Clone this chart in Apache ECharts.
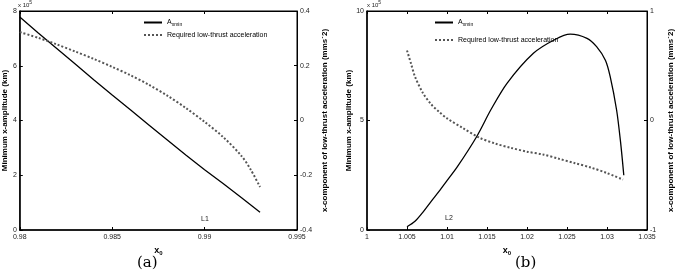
<!DOCTYPE html>
<html>
<head>
<meta charset="utf-8">
<script src="https://cdn.jsdelivr.net/npm/echarts@6/dist/echarts.min.js"></script>
<style>
  html, body { margin: 0; padding: 0; background: #fff; }
  #main { width: 678px; height: 278px; }
</style>
</head>
<body>
<div id="main"></div>
<script>
// panel (a): L1
var x0L1 = [0.98, 0.981, 0.982, 0.983, 0.984, 0.985, 0.986, 0.987, 0.988, 0.989, 0.99, 0.991, 0.992, 0.993];
var ampL1 = [7.78, 7.2, 6.63, 6.06, 5.49, 4.93, 4.38, 3.83, 3.28, 2.73, 2.2, 1.7, 1.18, 0.65];
var accX0L1 = [0.98, 0.981, 0.982, 0.983, 0.984, 0.985, 0.986, 0.987, 0.988, 0.989, 0.99, 0.991, 0.992, 0.9925, 0.993];
var accL1 = [0.323, 0.302, 0.278, 0.252, 0.225, 0.196, 0.165, 0.13, 0.09, 0.045, -0.005, -0.06, -0.13, -0.18, -0.243];

// panel (b): L2
var x0L2 = [1.005, 1.006, 1.007, 1.008, 1.009, 1.01, 1.0113, 1.0137, 1.0155, 1.0175, 1.0208, 1.0235, 1.0254, 1.0275, 1.0287, 1.0298, 1.0304, 1.0312, 1.0317, 1.0321];
var ampL2 = [0.15, 0.4, 0.82, 1.3, 1.76, 2.25, 2.89, 4.26, 5.5, 6.7, 8.07, 8.7, 8.94, 8.75, 8.37, 7.75, 7.0, 5.48, 4.0, 2.5];
var accX0L2 = [1.005, 1.0055, 1.006, 1.007, 1.008, 1.009, 1.01, 1.012, 1.014, 1.016, 1.018, 1.02, 1.022, 1.024, 1.026, 1.028, 1.03, 1.032];
var accL2 = [0.64, 0.52, 0.4, 0.25, 0.15, 0.08, 0.02, -0.07, -0.155, -0.21, -0.25, -0.285, -0.31, -0.35, -0.39, -0.43, -0.48, -0.54];

var legendNames = ['A', 'Required low-thrust acceleration'];

function pairs(xs, ys) {
  return xs.map(function (x, i) { return [x, ys[i]]; });
}

var font = 'Liberation Sans, Arial, sans-serif';
var tickFont = { fontSize: 7, color: '#222', fontFamily: font };

function xAx(gi, min, max) {
  return {
    type: 'value', gridIndex: gi, min: min, max: max, interval: 0.005,
    position: 'bottom',
    name: '{b|x}{s|0}',
    nameLocation: 'middle', nameGap: 9,
    nameTextStyle: { rich: {
      b: { fontSize: 9, fontWeight: 'bold', fontFamily: font, color: '#000' },
      s: { fontSize: 6, fontWeight: 'bold', fontFamily: font, color: '#000', verticalAlign: 'bottom', padding: [6, 0, 0, 0] }
    } },
    axisLine: { onZero: false, lineStyle: { color: '#000', width: 1.5 } },
    axisTick: { inside: true, length: 3, lineStyle: { color: '#000' } },
    axisLabel: Object.assign({ margin: 4 }, tickFont),
    splitLine: { show: false }
  };
}
function xTop(gi, min, max) {
  return {
    type: 'value', gridIndex: gi, min: min, max: max, interval: 0.005, position: 'top',
    axisLine: { onZero: false, lineStyle: { color: '#000', width: 1 } },
    axisTick: { inside: true, length: 3, lineStyle: { color: '#000' } },
    axisLabel: { show: false }, splitLine: { show: false }
  };
}
function yAx(gi, pos, min, max, interval, name, gap) {
  return {
    type: 'value', gridIndex: gi, position: pos, min: min, max: max, interval: interval,
    name: name, nameLocation: 'middle', nameGap: gap,
    nameTextStyle: { fontSize: 8, fontWeight: 'bold', fontFamily: font, color: '#000' },
    axisLine: { show: true, onZero: false, lineStyle: { color: '#000', width: pos === 'left' ? 1.5 : 1 } },
    axisTick: { show: true, inside: true, length: 3, lineStyle: { color: '#000' } },
    axisLabel: Object.assign({ margin: 3 }, tickFont),
    splitLine: { show: false }
  };
}

var leftName = 'Minimum x-amplitude (km)';
var rightName = 'x-component of low-thrust acceleration (mms`2)';

var solid = { color: '#000', width: 1.3, type: 'solid' };
var dotted = { color: '#555', width: 2, type: [2, 2] };

function legendFor(left, gap, names) {
  return {
    left: left, top: 14, orient: 'vertical', itemGap: gap, itemWidth: 18, itemHeight: 6,
    data: names, selectedMode: false,
    itemStyle: { opacity: 0 },
    formatter: function (n) { return n[0] === 'a' ? '{t|' + legendNames[0] + '}{s|xmin}' : '{t|' + legendNames[1] + '}'; },
    textStyle: { fontSize: 7, fontFamily: font, color: '#000', rich: {
      t: { fontSize: 7, fontFamily: font, color: '#000' },
      s: { fontSize: 5, fontFamily: font, color: '#000', padding: [5, 0, 0, 0] } } }
  };
}

var chart = echarts.init(document.getElementById('main'));
chart.setOption({
  animation: false,
  backgroundColor: '#fff',
  grid: [
    { left: 17, right: 381, top: 11, bottom: 48, show: true, borderColor: '#000', borderWidth: 1 },
    { left: 367, right: 31, top: 11, bottom: 48, show: true, borderColor: '#000', borderWidth: 1 }
  ],
  xAxis: [
    xAx(0, 0.98, 0.995), xTop(0, 0.98, 0.995),
    xAx(1, 1, 1.035), xTop(1, 1, 1.035)
  ],
  yAxis: [
    yAx(0, 'left', 0, 8, 2, leftName, 10),
    yAx(0, 'right', -0.4, 0.4, 0.2, rightName, 24),
    yAx(1, 'left', 0, 10, 5, leftName, 14),
    yAx(1, 'right', -1, 1, 1, rightName, 20)
  ],
  legend: [legendFor(138, 4, ['a1', 'r1']), legendFor(429, 9, ['a2', 'r2'])],
  series: [
    { name: 'a1', type: 'line', xAxisIndex: 0, yAxisIndex: 0, showSymbol: false, symbol: 'none',
      lineStyle: solid, itemStyle: { color: '#000' }, data: pairs(x0L1, ampL1) },
    { name: 'r1', type: 'line', xAxisIndex: 0, yAxisIndex: 1, showSymbol: false, symbol: 'none', smooth: 0.3,
      lineStyle: dotted, itemStyle: { color: '#555' }, data: pairs(accX0L1, accL1) },
    { name: 'a2', type: 'line', xAxisIndex: 2, yAxisIndex: 2, showSymbol: false, symbol: 'none', smooth: 0.3,
      lineStyle: solid, itemStyle: { color: '#000' }, data: pairs(x0L2, ampL2) },
    { name: 'r2', type: 'line', xAxisIndex: 2, yAxisIndex: 3, showSymbol: false, symbol: 'none', smooth: 0.3,
      lineStyle: dotted, itemStyle: { color: '#555' }, data: pairs(accX0L2, accL2) }
  ],
  graphic: [
    { type: 'text', left: 18, top: 0, style: { text: '{t|x 10}{p|5}', rich: {
      t: { fontSize: 6, fontFamily: font, fill: '#222' }, p: { fontSize: 5, fontFamily: font, fill: '#222', padding: [0, 0, 5, 0] } } } },
    { type: 'text', left: 367, top: 0, style: { text: '{t|x 10}{p|5}', rich: {
      t: { fontSize: 6, fontFamily: font, fill: '#222' }, p: { fontSize: 5, fontFamily: font, fill: '#222', padding: [0, 0, 5, 0] } } } },
    { type: 'text', left: 201, top: 216, style: { text: 'L1', fontSize: 7, fontFamily: font, fill: '#222' } },
    { type: 'text', left: 445, top: 215, style: { text: 'L2', fontSize: 7, fontFamily: font, fill: '#222' } },
    { type: 'text', left: 137, top: 256, style: { text: '(a)', fontSize: 15, fontFamily: 'DejaVu Serif, Liberation Serif, serif', fill: '#000' } },
    { type: 'text', left: 515, top: 256, style: { text: '(b)', fontSize: 15, fontFamily: 'DejaVu Serif, Liberation Serif, serif', fill: '#000' } }
  ]
});
</script>
</body>
</html>
